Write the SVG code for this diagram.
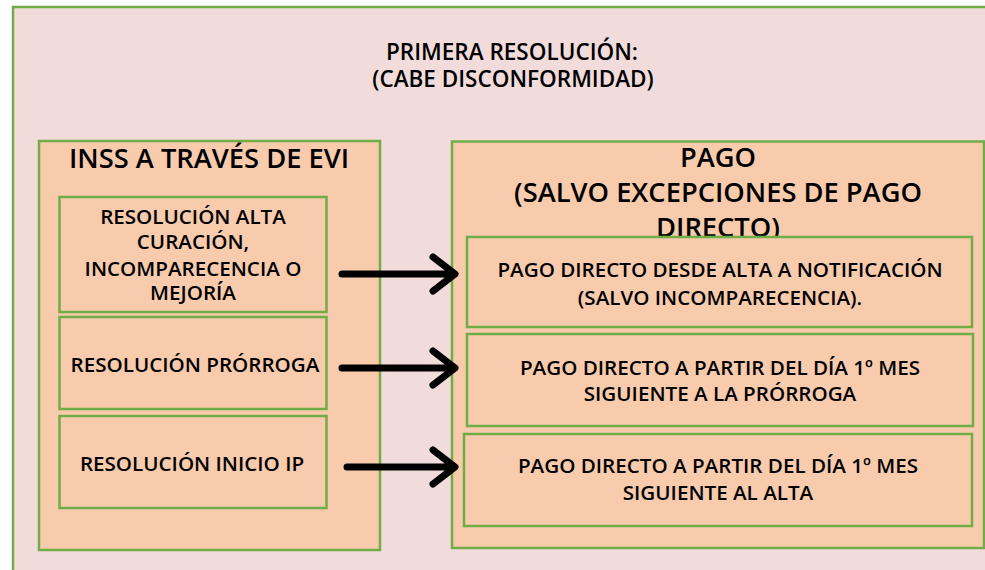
<svg xmlns="http://www.w3.org/2000/svg" width="985" height="570" viewBox="0 0 985 570">
<style>
.outer{fill:#F2DCDB;stroke:#70AD47;stroke-width:2.5}
.box{fill:#F8CBAD;stroke:#70AD47;stroke-width:2.5}
text{font-family:"Open Sans","Noto Sans","DejaVu Sans",sans-serif;font-weight:600;fill:#000;text-anchor:middle}
.t1{font-size:22.5px}
.t2{font-size:27.3px}
.t3{font-size:20.6px}
.arrow{fill:none;stroke:#000;stroke-width:7;stroke-linecap:round;stroke-linejoin:round}
</style>
<rect width="985" height="570" fill="#FFFFFF"/>
<g id="outer">
<rect class="outer" x="13" y="7" width="1000" height="600"/>
<text class="t1" x="512" y="60">PRIMERA RESOLUCIÓN:</text>
<text class="t1" x="513" y="87">(CABE DISCONFORMIDAD)</text>
</g>
<g id="inss">
<rect class="box" x="39" y="141" width="341" height="409"/>
<text class="t2" x="209" y="168">INSS A TRAVÉS DE EVI</text>
</g>
<g id="pago">
<rect class="box" x="452" y="141.5" width="532" height="406.5"/>
<text class="t2" x="718" y="167">PAGO</text>
<text class="t2" x="718" y="202">(SALVO EXCEPCIONES DE PAGO</text>
<text class="t2" x="718" y="237">DIRECTO)</text>
</g>
<g id="res-alta">
<rect class="box" x="59.5" y="197" width="267" height="115"/>
<text class="t3" x="193" y="224">RESOLUCIÓN ALTA</text>
<text class="t3" x="193" y="249">CURACIÓN,</text>
<text class="t3" x="193" y="276">INCOMPARECENCIA O</text>
<text class="t3" x="193" y="300">MEJORÍA</text>
</g>
<g id="res-prorroga">
<rect class="box" x="59.5" y="317" width="267" height="92"/>
<text class="t3" x="195" y="372">RESOLUCIÓN PRÓRROGA</text>
</g>
<g id="res-inicio-ip">
<rect class="box" x="59.5" y="416" width="267" height="92"/>
<text class="t3" x="192" y="471">RESOLUCIÓN INICIO IP</text>
</g>
<g id="pago-1">
<rect class="box" x="467" y="237" width="505" height="90"/>
<text class="t3" x="720" y="277">PAGO DIRECTO DESDE ALTA A NOTIFICACIÓN</text>
<text class="t3" x="720" y="305">(SALVO INCOMPARECENCIA).</text>
</g>
<g id="pago-2">
<rect class="box" x="467" y="334" width="506" height="92"/>
<text class="t3" x="720" y="375">PAGO DIRECTO A PARTIR DEL DÍA 1º MES</text>
<text class="t3" x="720" y="401">SIGUIENTE A LA PRÓRROGA</text>
</g>
<g id="pago-3">
<rect class="box" x="464" y="434" width="508" height="92"/>
<text class="t3" x="718" y="473">PAGO DIRECTO A PARTIR DEL DÍA 1º MES</text>
<text class="t3" x="718" y="500">SIGUIENTE AL ALTA</text>
</g>
<g id="connectors">
<path class="arrow" d="M342,274 H453 M433,257 L455,274 L433,291"/>
<path class="arrow" d="M342,368 H453 M433,351 L455,368 L433,385"/>
<path class="arrow" d="M347,467 H453 M433,450 L455,467 L433,484"/>
</g>
</svg>
